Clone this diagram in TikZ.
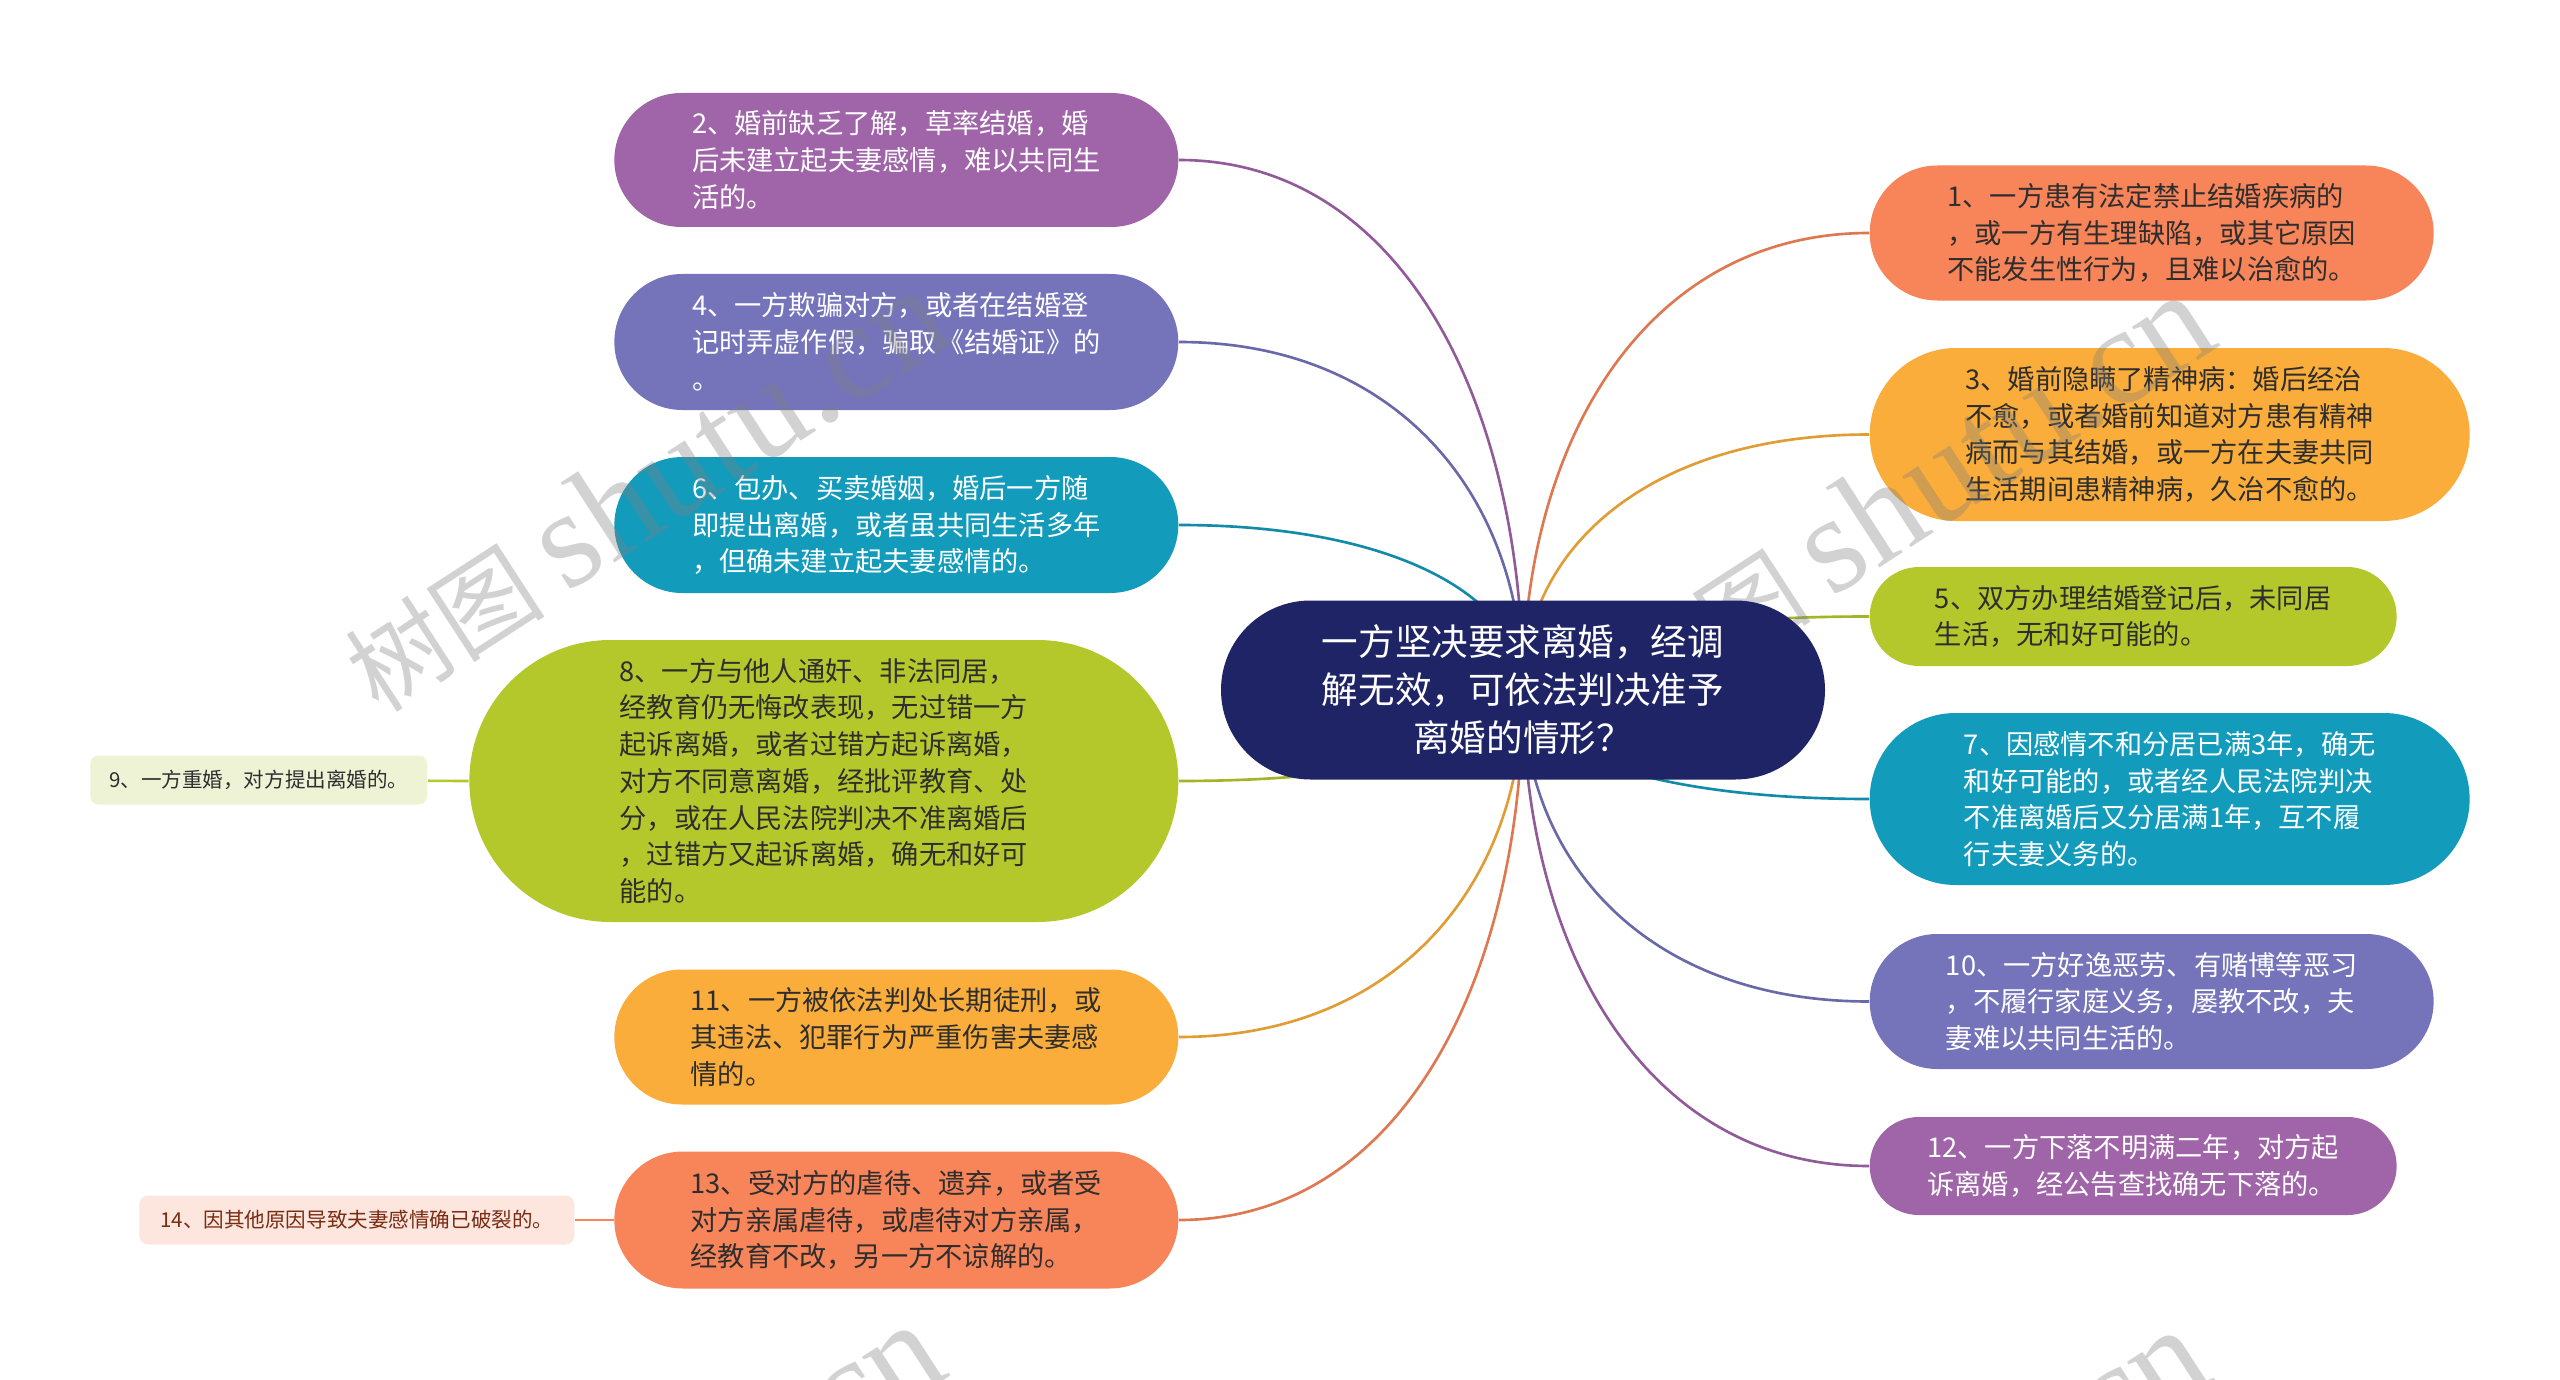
\documentclass[tikz,border=0pt]{standalone}
\usepackage{fontspec}
\setmainfont{Noto Sans CJK SC}
\newfontfamily\wmfont{Liberation Serif}
\usepackage{tikz}
\usepackage{xcolor}
\usetikzlibrary{shapes.misc,calc,backgrounds}
\definecolor{plum}{HTML}{A065A9}
\definecolor{slate}{HTML}{7574BB}
\definecolor{sea}{HTML}{139BBC}
\definecolor{moss}{HTML}{B5C82B}
\definecolor{amber}{HTML}{FAAD3A}
\definecolor{coral}{HTML}{F8845A}
\definecolor{navy}{HTML}{1E2466}
\definecolor{mosspale}{HTML}{EEF3D6}
\definecolor{coralpale}{HTML}{FDE6DE}
\definecolor{rust}{HTML}{7B2B12}
\definecolor{ink}{HTML}{2E2E2E}
\tikzset{
  branch/.style={rounded rectangle, inner xsep=2pt, inner ysep=0pt, align=left,
                 font=\fontsize{7.75pt}{10.45pt}\selectfont},
  hub/.style={rounded rectangle, fill=navy, text=white, align=center, inner sep=0pt,
              font=\fontsize{10.4pt}{13.66pt}\selectfont},
  note/.style={rounded corners=2.5pt, inner sep=0pt, minimum height=0.49cm,
               font=\fontsize{5.85pt}{7pt}\selectfont},
  link/.style={line width=0.75pt},
  stamp/.style={rotate=33, text=black!50, text opacity=0.35,
                font=\fontsize{28.5pt}{32pt}\selectfont}
}

\begin{document}
\begin{tikzpicture}[x=1cm,y=1cm]
  \useasboundingbox (0,0) rectangle (25.6,-13.8);

  % left side
  \node[branch,fill=plum,text=white,minimum width=5.78cm,minimum height=1.34cm,anchor=east] (n2) at (11.79,-1.60)
    {2、婚前缺乏了解，草率结婚，婚\\后未建立起夫妻感情，难以共同生\\活的。};
  \node[branch,fill=slate,text=white,minimum width=5.78cm,minimum height=1.36cm,anchor=east] (n4) at (11.79,-3.42)
    {4、一方欺骗对方，或者在结婚登\\记时弄虚作假，骗取《结婚证》的\\。};
  \node[branch,fill=sea,text=white,minimum width=5.78cm,minimum height=1.36cm,anchor=east] (n6) at (11.79,-5.25)
    {6、包办、买卖婚姻，婚后一方随\\即提出离婚，或者虽共同生活多年\\，但确未建立起夫妻感情的。};
  \node[branch,fill=moss,text=ink,minimum width=7.23cm,minimum height=2.82cm,anchor=east] (n8) at (11.79,-7.81)
    {8、一方与他人通奸、非法同居，\\经教育仍无悔改表现，无过错一方\\起诉离婚，或者过错方起诉离婚，\\对方不同意离婚，经批评教育、处\\分，或在人民法院判决不准离婚后\\，过错方又起诉离婚，确无和好可\\能的。};
  \node[branch,fill=amber,text=ink,minimum width=5.78cm,minimum height=1.35cm,anchor=east] (n11) at (11.79,-10.37)
    {11、一方被依法判处长期徒刑，或\\其违法、犯罪行为严重伤害夫妻感\\情的。};
  \node[branch,fill=coral,text=ink,minimum width=5.78cm,minimum height=1.37cm,anchor=east] (n13) at (11.79,-12.20)
    {13、受对方的虐待、遗弃，或者受\\对方亲属虐待，或虐待对方亲属，\\经教育不改，另一方不谅解的。};
  \node[note,fill=mosspale,text=ink,minimum width=3.37cm,anchor=east] (n9) at (4.28,-7.80)
    {9、一方重婚，对方提出离婚的。};
  \node[note,fill=coralpale,text=rust,minimum width=4.35cm,anchor=east] (n14) at (5.75,-12.20)
    {14、因其他原因导致夫妻感情确已破裂的。};

  % right side
  \node[branch,fill=coral,text=ink,minimum width=5.78cm,minimum height=1.35cm,anchor=west] (n1) at (18.69,-2.33)
    {1、一方患有法定禁止结婚疾病的\\，或一方有生理缺陷，或其它原因\\不能发生性行为，且难以治愈的。};
  \node[branch,fill=amber,text=ink,minimum width=6.14cm,minimum height=1.73cm,anchor=west] (n3) at (18.69,-4.345)
    {3、婚前隐瞒了精神病：婚后经治\\不愈，或者婚前知道对方患有精神\\病而与其结婚，或一方在夫妻共同\\生活期间患精神病，久治不愈的。};
  \node[branch,fill=moss,text=ink,minimum width=5.41cm,minimum height=0.99cm,anchor=west] (n5) at (18.69,-6.165)
    {5、双方办理结婚登记后，未同居\\生活，无和好可能的。};
  \node[branch,fill=sea,text=white,minimum width=6.14cm,minimum height=1.72cm,anchor=west] (n7) at (18.69,-7.99)
    {7、因感情不和分居已满3年，确无\\和好可能的，或者经人民法院判决\\不准离婚后又分居满1年，互不履\\行夫妻义务的。};
  \node[branch,fill=slate,text=white,minimum width=5.78cm,minimum height=1.35cm,anchor=west] (n10) at (18.69,-10.015)
    {10、一方好逸恶劳、有赌博等恶习\\，不履行家庭义务，屡教不改，夫\\妻难以共同生活的。};
  \node[branch,fill=plum,text=white,minimum width=5.41cm,minimum height=0.98cm,anchor=west] (n12) at (18.69,-11.66)
    {12、一方下落不明满二年，对方起\\诉离婚，经公告查找确无下落的。};

  % watermarks
  \begin{scope}
    \clip (0,0) rectangle (25.6,-13.8);
    \foreach \x/\y in {6.45/-4.90,19.10/-4.95,6.40/-15.25,19.05/-15.30}
      {\node[stamp] at (\x,\y) {树图 {\wmfont\fontsize{39.5pt}{44pt}\selectfont shutu.cn}};}
  \end{scope}

  \node[hub,minimum width=6.04cm,minimum height=1.79cm] (centre) at (15.23,-6.90)
    {一方坚决要求离婚，经调\\解无效，可依法判决准予\\离婚的情形？};

  \begin{scope}[on background layer]
    \fill[white] (0,0) rectangle (25.6,-13.8);
    \foreach \n/\c in {n2/plum,n4/slate,n6/sea,n8/moss,n11/amber,n13/coral}
      {\draw[link,draw=\c!90!black] (\n.east) .. controls ($(\n.east)!0.64!(centre.center |- \n.east)$)
        and ($(centre.center |- \n.east)!0.45!(centre.center)$) .. (centre.center);}
    \foreach \n/\c in {n1/coral,n3/amber,n5/moss,n7/sea,n10/slate,n12/plum}
      {\draw[link,draw=\c!90!black] (\n.west) .. controls ($(\n.west)!0.64!(centre.center |- \n.west)$)
        and ($(centre.center |- \n.west)!0.45!(centre.center)$) .. (centre.center);}
    \draw[link,draw=moss] (n9) -- (n8.west);
    \draw[link,draw=coral] (n14) -- (n13.west);
  \end{scope}
\end{tikzpicture}
\end{document}
